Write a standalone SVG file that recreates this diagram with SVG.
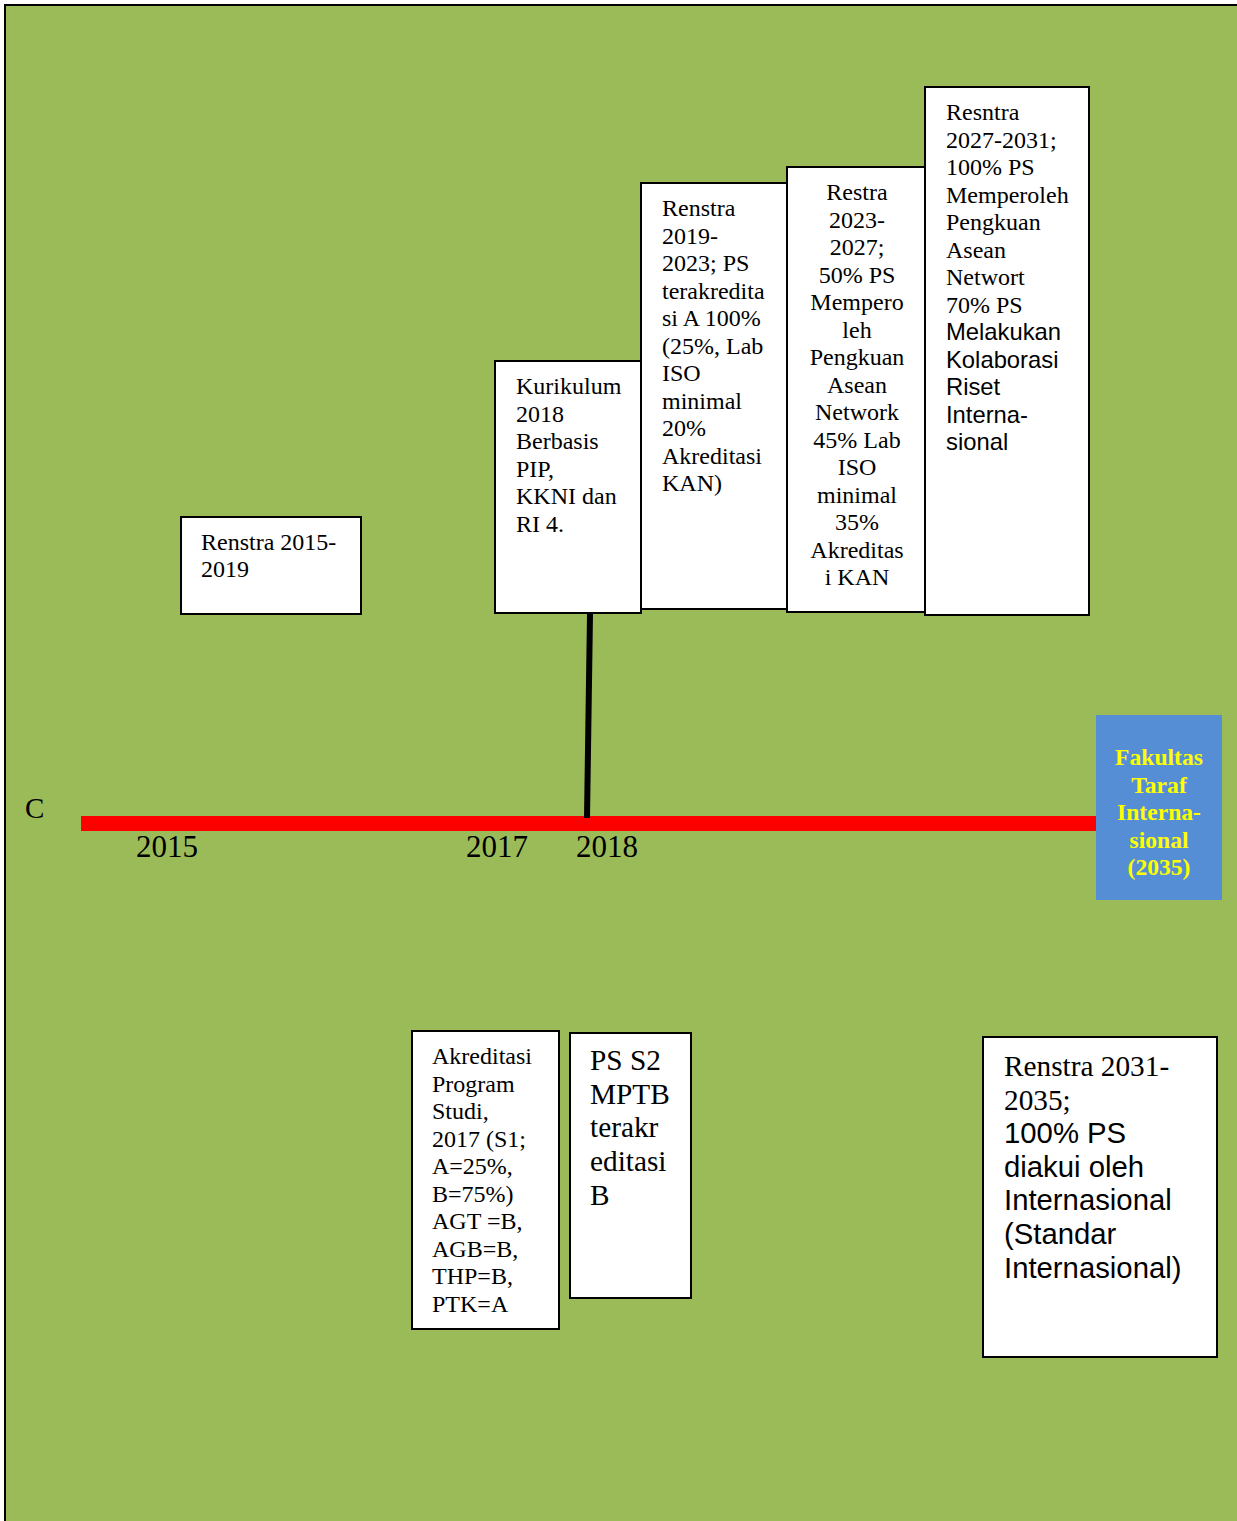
<svg xmlns="http://www.w3.org/2000/svg" width="1237" height="1521" viewBox="0 0 1237 1521">
<style>
.box{fill:#fff;stroke:#000;stroke-width:2}
.t{font-family:"Liberation Serif",serif;font-size:24px;fill:#000}
.s{font-family:"Liberation Sans",sans-serif;font-size:23.8px;fill:#000}
.big{font-size:29.3px}
.yr{font-family:"Liberation Serif",serif;font-size:31px;fill:#000}
.fk{font-family:"Liberation Serif",serif;font-size:23.6px;font-weight:bold;fill:#ffff00}
</style>
<rect x="5" y="5" width="1240" height="1530" fill="#9bbb59" stroke="#000" stroke-width="2"/>
<g id="connectors">
<rect x="81" y="816" width="1018" height="15" fill="#ff0000"/>
<line x1="590" y1="614" x2="587" y2="818" stroke="#000" stroke-width="6"/>
</g>
<g id="axis-labels">
<text class="yr" x="25" y="818" style="font-size:29px">C</text>
<text class="yr" x="136" y="857">2015</text>
<text class="yr" x="466" y="857">2017</text>
<text class="yr" x="576" y="857">2018</text>
</g>
<g id="renstra2015">
<rect class="box" x="181" y="517" width="180" height="97"/>
<text class="t" x="201" y="550">Renstra 2015-</text>
<text class="t" x="201" y="577">2019</text>
</g>
<g id="kurikulum">
<rect class="box" x="495" y="361" width="146" height="252"/>
<text class="t" x="516" y="394">Kurikulum<tspan x="516" dy="27.5">2018</tspan><tspan x="516" dy="27.5">Berbasis</tspan><tspan x="516" dy="27.5">PIP,</tspan><tspan x="516" dy="27.5">KKNI dan</tspan><tspan x="516" dy="27.5">RI 4.</tspan></text>
</g>
<g id="renstra2019">
<rect class="box" x="641" y="183" width="146" height="426"/>
<text class="t" x="662" y="216">Renstra<tspan x="662" dy="27.5">2019-</tspan><tspan x="662" dy="27.5">2023; PS</tspan><tspan x="662" dy="27.5">terakredita</tspan><tspan x="662" dy="27.5">si A 100%</tspan><tspan x="662" dy="27.5">(25%, Lab</tspan><tspan x="662" dy="27.5">ISO</tspan><tspan x="662" dy="27.5">minimal</tspan><tspan x="662" dy="27.5">20%</tspan><tspan x="662" dy="27.5">Akreditasi</tspan><tspan x="662" dy="27.5">KAN)</tspan></text>
</g>
<g id="restra2023">
<rect class="box" x="787" y="167" width="138" height="445"/>
<text class="t" x="857" y="200" text-anchor="middle">Restra<tspan x="857" dy="27.5">2023-</tspan><tspan x="857" dy="27.5">2027;</tspan><tspan x="857" dy="27.5">50% PS</tspan><tspan x="857" dy="27.5">Mempero</tspan><tspan x="857" dy="27.5">leh</tspan><tspan x="857" dy="27.5">Pengkuan</tspan><tspan x="857" dy="27.5">Asean</tspan><tspan x="857" dy="27.5">Network</tspan><tspan x="857" dy="27.5">45% Lab</tspan><tspan x="857" dy="27.5">ISO</tspan><tspan x="857" dy="27.5">minimal</tspan><tspan x="857" dy="27.5">35%</tspan><tspan x="857" dy="27.5">Akreditas</tspan><tspan x="857" dy="27.5">i KAN</tspan></text>
</g>
<g id="resnstra2027">
<rect class="box" x="925" y="87" width="164" height="528"/>
<text class="t" x="946" y="120">Resntra<tspan x="946" dy="27.5">2027-2031;</tspan><tspan x="946" dy="27.5">100% PS</tspan><tspan x="946" dy="27.5">Memperoleh</tspan><tspan x="946" dy="27.5">Pengkuan</tspan><tspan x="946" dy="27.5">Asean</tspan><tspan x="946" dy="27.5">Networt</tspan><tspan x="946" dy="27.5">70% PS</tspan></text>
<text class="s" x="946" y="340">Melakukan<tspan x="946" dy="27.5">Kolaborasi</tspan><tspan x="946" dy="27.5">Riset</tspan><tspan x="946" dy="27.5">Interna-</tspan><tspan x="946" dy="27.5">sional</tspan></text>
</g>
<g id="fakultas">
<rect x="1096" y="715" width="126" height="185" fill="#558ed5"/>
<text class="fk" x="1159" y="765" text-anchor="middle">Fakultas<tspan x="1159" dy="27.5">Taraf</tspan><tspan x="1159" dy="27.5">Interna-</tspan><tspan x="1159" dy="27.5">sional</tspan><tspan x="1159" dy="27.5">(2035)</tspan></text>
</g>
<g id="akreditasi">
<rect class="box" x="412" y="1031" width="147" height="298"/>
<text class="t" x="432" y="1064">Akreditasi<tspan x="432" dy="27.5">Program</tspan><tspan x="432" dy="27.5">Studi,</tspan><tspan x="432" dy="27.5">2017 (S1;</tspan><tspan x="432" dy="27.5">A=25%,</tspan><tspan x="432" dy="27.5">B=75%)</tspan><tspan x="432" dy="27.5">AGT =B,</tspan><tspan x="432" dy="27.5">AGB=B,</tspan><tspan x="432" dy="27.5">THP=B,</tspan><tspan x="432" dy="27.5">PTK=A</tspan></text>
</g>
<g id="pss2">
<rect class="box" x="570" y="1033" width="121" height="265"/>
<text class="t big" x="590" y="1070">PS S2<tspan x="590" dy="33.7">MPTB</tspan><tspan x="590" dy="33.7">terakr</tspan><tspan x="590" dy="33.7">editasi</tspan><tspan x="590" dy="33.7">B</tspan></text>
</g>
<g id="renstra2031">
<rect class="box" x="983" y="1037" width="234" height="320"/>
<text class="t big" x="1004" y="1076">Renstra 2031-<tspan x="1004" dy="33.7">2035;</tspan></text>
<text class="s big" x="1004" y="1143">100% PS<tspan x="1004" dy="33.7">diakui oleh</tspan><tspan x="1004" dy="33.7">Internasional</tspan><tspan x="1004" dy="33.7">(Standar</tspan><tspan x="1004" dy="33.7">Internasional)</tspan></text>
</g>
</svg>
